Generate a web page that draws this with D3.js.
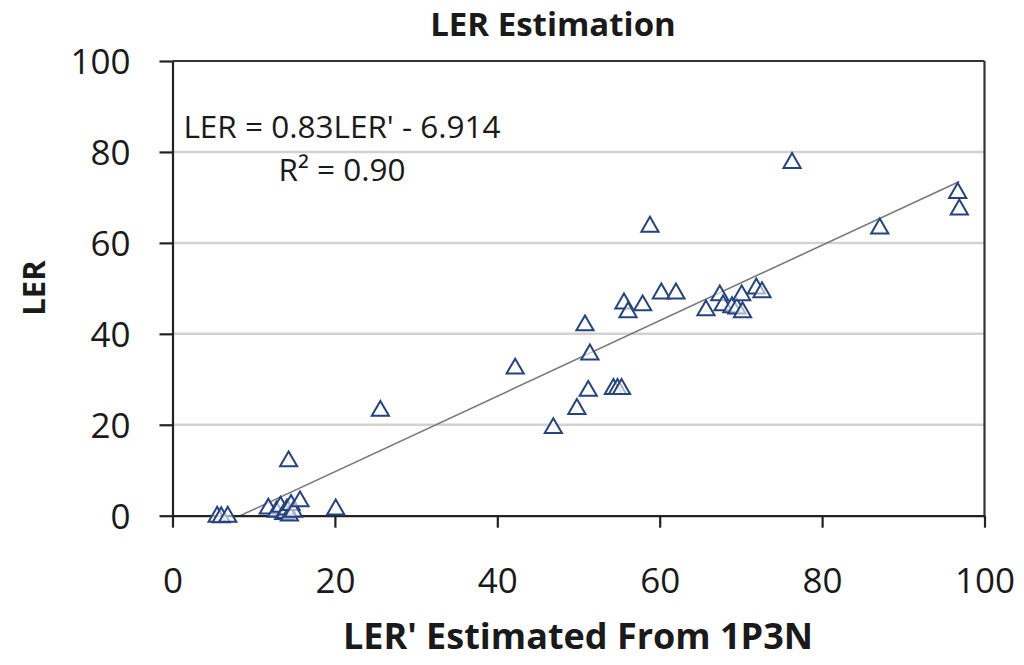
<!DOCTYPE html>
<html>
<head>
<meta charset="utf-8">
<script src="https://cdn.jsdelivr.net/npm/d3@7"></script>
<style>
  html, body { margin: 0; padding: 0; background: #fff; }
  svg { display: block; }
  text { font-family: "Open Sans", "Noto Sans", sans-serif; fill: #1a1a1a; }
</style>
</head>
<body>
<svg id="chart" width="1024" height="665"></svg>
<script>
// ---- data ----
const lerPrime = [5.5, 6.0, 6.8, 11.8, 12.8, 13.3, 13.7, 13.9, 14.1, 14.4, 14.6, 14.9, 15.7, 14.3, 20.1, 25.6,
  42.2, 46.9, 49.8, 50.8, 51.2, 51.4, 54.3, 54.8, 55.3, 55.6, 56.1, 57.9, 58.8, 60.2, 62.0,
  65.7, 67.4, 67.8, 68.9, 69.5, 70.1, 70.2, 71.9, 72.6, 76.3, 87.1, 96.7, 96.9];
const ler = [0.2, 0.1, 0.2, 2.0, 1.3, 2.4, 0.8, 1.0, 1.8, 0.5, 2.8, 1.3, 3.6, 12.4, 1.8, 23.5,
  32.8, 19.7, 23.9, 42.3, 27.9, 35.9, 28.3, 28.3, 28.3, 47.1, 45.2, 46.7, 64.0, 49.3, 49.3,
  45.6, 48.9, 46.7, 46.3, 46.0, 48.9, 45.2, 50.4, 49.6, 78.0, 63.6, 71.4, 67.8];
const xTicks = [0, 20, 40, 60, 80, 100];
const yTicks = [0, 20, 40, 60, 80, 100];
const trendSlope = 0.83;
const trendIntercept = -6.914;
const titleText = "LER Estimation";
const xTitle = "LER' Estimated From 1P3N";
const yTitle = "LER";
const eqLine1 = "LER = 0.83LER' - 6.914";
const eqLine2 = "R\u00B2 = 0.90";

// ---- layout ----
const svg = d3.select("#chart");
const L = 172.5, R = 984.5, T = 61, B = 515.7;
const x = d3.scaleLinear().domain([0, 100]).range([L, R]);
const y = d3.scaleLinear().domain([0, 100]).range([B, T]);

// gridlines
svg.append("g").selectAll("line")
  .data(yTicks.filter(v => v > 0 && v < 100))
  .join("line")
  .attr("x1", L).attr("x2", R)
  .attr("y1", d => y(d)).attr("y2", d => y(d))
  .attr("stroke", "#d2d2d2").attr("stroke-width", 2.5);

// clip for trendline
svg.append("clipPath").attr("id", "plotclip")
  .append("rect").attr("x", L).attr("y", T).attr("width", R - L).attr("height", B - T);

// trendline
const xmin = d3.min(lerPrime), xmax = d3.max(lerPrime);
svg.append("line")
  .attr("clip-path", "url(#plotclip)")
  .attr("x1", x(xmin)).attr("y1", y(trendSlope * xmin + trendIntercept))
  .attr("x2", x(xmax)).attr("y2", y(trendSlope * xmax + trendIntercept))
  .attr("stroke", "#7a7a7a").attr("stroke-width", 1.6);

// frame (top and right)
svg.append("line").attr("x1", L).attr("x2", R).attr("y1", T).attr("y2", T)
  .attr("stroke", "#333").attr("stroke-width", 2.2);
svg.append("line").attr("x1", R).attr("x2", R).attr("y1", T).attr("y2", B)
  .attr("stroke", "#333").attr("stroke-width", 2.2);

// axes
const xAxis = d3.axisBottom(x).tickValues(xTicks).tickSize(12).tickSizeOuter(0).tickFormat(d3.format("d"));
const yAxis = d3.axisLeft(y).tickValues(yTicks).tickSize(13).tickSizeOuter(0).tickFormat(d3.format("d"));

const gx = svg.append("g").attr("transform", `translate(0,${B})`).call(xAxis);
gx.select(".domain").attr("stroke", "#222").attr("stroke-width", 2.2);
gx.selectAll(".tick line").attr("stroke", "#222").attr("stroke-width", 2.2);
gx.selectAll(".tick text")
  .attr("y", 77).attr("dy", null)
  .style("font-family", '"Open Sans", sans-serif')
  .style("font-size", "35px").attr("fill", "#1a1a1a");

const gy = svg.append("g").attr("transform", `translate(${L},0)`).call(yAxis);
gy.select(".domain").attr("stroke", "#222").attr("stroke-width", 2.2);
gy.selectAll(".tick line").attr("stroke", "#222").attr("stroke-width", 2.2);
gy.selectAll(".tick text")
  .attr("x", -42).attr("dy", "0.36em")
  .style("font-family", '"Open Sans", sans-serif')
  .style("font-size", "35px").attr("fill", "#1a1a1a");

// points
const tri = d3.symbol().type(d3.symbolTriangle).size(128);
svg.append("g").selectAll("path")
  .data(lerPrime.map((v, i) => [v, ler[i]]))
  .join("path")
  .attr("d", tri)
  .attr("transform", d => `translate(${x(d[0])},${y(d[1]) + 2})`)
  .attr("fill", "#ffffff").attr("fill-opacity", 0.6)
  .attr("stroke", "#24437f").attr("stroke-width", 2);

// trend label
svg.append("text").attr("x", 342).attr("y", 138).attr("text-anchor", "middle")
  .style("font-size", "31.5px").text(eqLine1);
svg.append("text").attr("x", 342).attr("y", 181).attr("text-anchor", "middle")
  .style("font-size", "31.5px").text(eqLine2);

// titles
svg.append("text").attr("x", 553).attr("y", 36).attr("text-anchor", "middle")
  .style("font-size", "33px").style("font-weight", "bold").text(titleText);
svg.append("text").attr("x", 578).attr("y", 649).attr("text-anchor", "middle")
  .style("font-size", "36px").style("font-weight", "bold").text(xTitle);
svg.append("text").attr("transform", "translate(45,288) rotate(-90)").attr("text-anchor", "middle")
  .style("font-size", "31px").style("font-weight", "bold").text(yTitle);
</script>
</body>
</html>
